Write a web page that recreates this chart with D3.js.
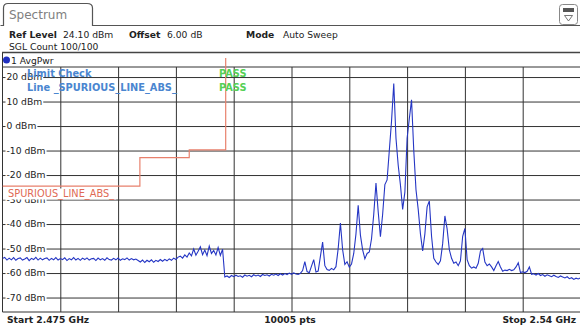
<!DOCTYPE html>
<html>
<head>
<meta charset="utf-8">
<script src="https://cdn.jsdelivr.net/npm/d3@7"></script>
<style>
  body { margin: 0; background: #fff; }
  svg { display: block; font-family: "DejaVu Sans", Verdana, sans-serif; }
</style>
</head>
<body>
<div id="chart"></div>
<script>
// y grid / tick labels (dBm)
const yTicks = [20, 10, 0, -10, -20, -30, -40, -50, -60, -70];
// vertical grid lines (MHz), 10 divisions over the span
const xGrid = [2481.5, 2488, 2494.5, 2501, 2507.5, 2514, 2520.5, 2527, 2533.5];

// trace: one level every 0.25 MHz from 2475 MHz
const traceStart = 2475;
const traceStep = 0.25;
const traceLevels = [
  -54.1, -53.6, -54.7, -53.9, -54.6, -53.7, -54.8, -54.1, -53.8, -54.7,
  -54.3, -53.7, -54.9, -54.0, -54.5, -53.6, -54.7, -53.9, -54.6, -54.1,
  -53.8, -54.8, -54.0, -54.6, -53.7, -54.7, -54.1, -54.5, -53.8, -54.9,
  -54.1, -54.6, -53.7, -54.7, -54.0, -54.8, -53.9, -54.5, -53.8, -54.7,
  -54.2, -54.0, -54.9, -53.9, -54.6, -54.1, -54.8, -53.8, -54.5, -54.7,
  -54.0, -54.6, -53.9, -54.8, -54.2, -54.5, -53.8, -54.7, -54.1, -54.6,
  -54.3, -54.9, -55.5, -54.7, -55.7, -54.8, -55.4, -54.6, -55.6, -54.8,
  -55.3, -54.5, -55.2, -54.4, -55.0, -54.2, -54.8, -53.9, -54.5, -53.5,
  -53.1, -53.9, -52.6, -53.5, -51.8, -53.0, -50.2, -52.7, -51.1, -49.3,
  -52.5, -50.6, -52.9, -49.0, -52.0, -50.8, -52.6, -49.6, -52.8, -50.3,
  -61.6, -61.2, -61.8, -61.0, -61.5, -60.9, -61.4, -61.1, -61.7, -60.8,
  -61.3, -60.9, -61.5, -60.7, -61.2, -60.8, -61.4, -60.6, -61.0, -60.7,
  -61.2, -60.5, -60.9, -60.4, -61.0, -60.3, -60.8, -60.2, -60.6, -60.0,
  -60.5, -59.9, -60.4, -60.6, -60.1, -59.0, -55.3, -59.4, -59.9, -57.2,
  -54.5, -59.6, -59.2, -53.2, -47.4, -57.0, -58.6, -58.9, -58.1, -58.7,
  -57.4, -50.0, -39.6, -50.5, -56.5, -55.4, -57.6, -56.3, -52.0, -44.0,
  -32.3, -44.5, -50.5, -54.2, -52.0, -51.4, -46.0, -36.0, -23.3, -35.0,
  -45.2, -36.0, -23.9, -22.0, -10.0, 2.0, 17.4, -5.0, -16.0, -24.0,
  -34.0, -27.0, -5.0, 3.0, 10.7, -10.0, -26.0, -34.0, -44.0, -51.0,
  -44.0, -33.0, -30.6, -45.0, -54.0, -55.5, -56.5, -55.0, -48.0, -36.7,
  -42.0, -50.5, -54.0, -56.0, -55.5, -57.0, -55.0, -45.0, -41.8, -54.5,
  -57.0, -58.0, -57.5, -58.0, -56.0, -51.0, -50.0, -55.5, -57.0, -56.3,
  -57.5, -59.0, -57.0, -55.3, -57.5, -59.3, -58.8, -59.0, -58.5, -59.0,
  -58.7, -57.5, -55.8, -59.8, -59.5, -59.8, -59.3, -57.5, -60.5, -60.3,
  -60.8, -60.2, -61.0, -60.6, -61.3, -60.7, -61.1, -61.5, -60.9, -61.4,
  -61.8, -61.2, -61.6, -62.0, -61.5, -62.3, -61.9, -62.6, -62.1, -62.4,
  -62.0
];

// limit line _SPURIOUS_LINE_ABS_ (MHz, dBm)
const limitFreqs = [2475, 2490.45, 2490.45, 2496.0, 2496.0, 2500.1, 2500.1];
const limitLevels = [-24.5, -24.5, -12.9, -12.9, -9.7, -9.7, 40];

const W = 580, H = 325;
const plot = { left: 2.5, right: 580.5, top: 67, bottom: 312 };

const svg = d3.select("#chart").append("svg")
  .attr("width", W)
  .attr("height", H);

const x = d3.scaleLinear().domain([2475, 2540]).range([plot.left, plot.right]);
const y = d3.scaleLinear().domain([-75.9, 24.1]).range([plot.bottom, plot.top]);

// ---- header tab ----
svg.append("path")
  .attr("d", "M0.5,25.5 H3.5 V8 Q3.5,3.5 8,3.5 H87 Q92.5,3.5 92.5,8 V25.5 H580")
  .attr("fill", "none")
  .attr("stroke", "#555")
  .attr("stroke-width", 1.2);

svg.append("text")
  .attr("x", 9).attr("y", 19)
  .style("font-size", "12px")
  .style("fill", "#808080")
  .text("Spectrum");

// little menu icon top right
const icon = svg.append("g");
icon.append("rect")
  .attr("x", 559.5).attr("y", 4.5).attr("width", 18).attr("height", 20).attr("rx", 3)
  .attr("fill", "#fff").attr("stroke", "#888");
icon.append("rect")
  .attr("x", 563).attr("y", 8).attr("width", 11).attr("height", 4)
  .attr("fill", "#555");
icon.append("path")
  .attr("d", "M564.5,15.5 L572.5,15.5 L568.5,21 Z")
  .attr("fill", "none").attr("stroke", "#555").attr("stroke-width", 0.8);

// ---- header info ----
const info = svg.append("text").attr("y", 37.5).style("font-size", "9.2px").style("fill", "#222");
info.append("tspan").attr("x", 9).style("font-weight", "bold").text("Ref Level");
info.append("tspan").attr("x", 63).text("24.10 dBm");
info.append("tspan").attr("x", 129).style("font-weight", "bold").text("Offset");
info.append("tspan").attr("x", 167).text("6.00 dB");
info.append("tspan").attr("x", 246).style("font-weight", "bold").text("Mode");
info.append("tspan").attr("x", 283).text("Auto Sweep");

svg.append("text")
  .attr("x", 9).attr("y", 49.5)
  .style("font-size", "9.2px").style("fill", "#222")
  .text("SGL Count 100/100");

svg.append("line")
  .attr("x1", 2).attr("x2", 580).attr("y1", 52.5).attr("y2", 52.5)
  .attr("stroke", "#444").attr("stroke-width", 1.5);

// trace label row
svg.append("circle").attr("cx", 6.5).attr("cy", 60).attr("r", 3.5).attr("fill", "#1f2fc0");
svg.append("text")
  .attr("x", 11).attr("y", 63.5)
  .style("font-size", "9.2px").style("fill", "#222")
  .text("1 AvgPwr");

// ---- grid ----
svg.append("g")
  .attr("class", "xgrid")
  .attr("transform", `translate(0,${plot.bottom})`)
  .call(d3.axisBottom(x).tickValues(xGrid).tickSize(-(plot.bottom - plot.top)).tickFormat(""))
  .call(g => g.select(".domain").remove())
  .selectAll("line")
    .attr("stroke", "#333");

const yAxis = svg.append("g")
  .attr("class", "ygrid")
  .attr("transform", `translate(${plot.left},0)`)
  .call(d3.axisRight(y).tickValues(yTicks).tickSize(plot.right - plot.left).tickFormat(d => `${d} dBm`))
  .call(g => g.select(".domain").remove());

yAxis.selectAll("line").attr("stroke", "#333");
yAxis.selectAll("text")
  .attr("x", 4)
  .attr("dy", "0.32em")
  .style("text-anchor", "start")
  .style("font-size", "9.2px")
  .style("font-family", "'DejaVu Sans', Verdana, sans-serif")
  .style("fill", "#222");

// white box behind each dBm label so the grid line stops at the text
yAxis.selectAll(".tick").each(function() {
  const t = d3.select(this).select("text");
  const bb = t.node().getBBox();
  d3.select(this).insert("rect", "text")
    .attr("x", bb.x - 1).attr("y", bb.y + 1)
    .attr("width", bb.width + 2).attr("height", bb.height - 2)
    .attr("fill", "#fff");
});

// frame
svg.append("line")
  .attr("x1", plot.left).attr("x2", plot.right).attr("y1", plot.top).attr("y2", plot.top)
  .attr("stroke", "#333");
svg.append("line")
  .attr("x1", plot.left).attr("x2", plot.right).attr("y1", plot.bottom).attr("y2", plot.bottom)
  .attr("stroke", "#333");
svg.append("line")
  .attr("x1", plot.left).attr("x2", plot.left).attr("y1", 53).attr("y2", plot.bottom)
  .attr("stroke", "#333");

svg.append("clipPath").attr("id", "clip")
  .append("rect")
    .attr("x", plot.left).attr("y", 58)
    .attr("width", plot.right - plot.left).attr("height", plot.bottom - 58);

// ---- limit line ----
const limitLine = d3.line()
  .x((d, i) => x(limitFreqs[i]))
  .y(d => y(d));

svg.append("path")
  .datum(limitLevels)
  .attr("clip-path", "url(#clip)")
  .attr("fill", "none")
  .attr("stroke", "#e8806c")
  .attr("stroke-width", 1.2)
  .attr("d", limitLine);

// limit line name (white backed, covers the -30 dBm label a bit)
const limName = svg.append("g");
const limText = limName.append("text")
  .attr("x", 8).attr("y", 196.5)
  .style("font-size", "9.8px")
  .style("fill", "#e06a55")
  .text("SPURIOUS_LINE_ABS_");
const lb = limText.node().getBBox();
limName.insert("rect", "text")
  .attr("x", 3).attr("y", 188.5)
  .attr("width", lb.x + lb.width - 3 + 2).attr("height", 11)
  .attr("fill", "#fff");

// ---- trace ----
const traceLine = d3.line()
  .x((d, i) => x(traceStart + i * traceStep))
  .y(d => y(d));

svg.append("path")
  .datum(traceLevels)
  .attr("clip-path", "url(#clip)")
  .attr("fill", "none")
  .attr("stroke", "#2536c4")
  .attr("stroke-width", 1.1)
  .attr("d", traceLine);

// ---- limit check overlay ----
svg.append("text")
  .attr("x", 27).attr("y", 76.5)
  .style("font-size", "9.8px").style("font-weight", "bold").style("fill", "#4a86d0")
  .text("Limit Check");
svg.append("text")
  .attr("x", 27).attr("y", 90.5)
  .style("font-size", "9.8px").style("font-weight", "bold").style("fill", "#4a86d0")
  .text("Line _SPURIOUS_LINE_ABS_");
svg.selectAll("text.pass")
  .data([76.5, 90.5])
  .enter()
  .append("text")
    .attr("class", "pass")
    .attr("x", 219).attr("y", d => d)
    .style("font-size", "9.8px").style("font-weight", "bold").style("fill", "#55d055")
    .text("PASS");

// ---- footer ----
const foot = svg.append("g").style("font-size", "9.2px").style("font-weight", "bold").style("fill", "#222");
foot.append("text").attr("x", 7).attr("y", 322.5).text("Start 2.475 GHz");
foot.append("text").attr("x", 290).attr("y", 322.5).style("text-anchor", "middle").text("10005 pts");
foot.append("text").attr("x", 576).attr("y", 322.5).style("text-anchor", "end").text("Stop 2.54 GHz");
</script>
</body>
</html>
